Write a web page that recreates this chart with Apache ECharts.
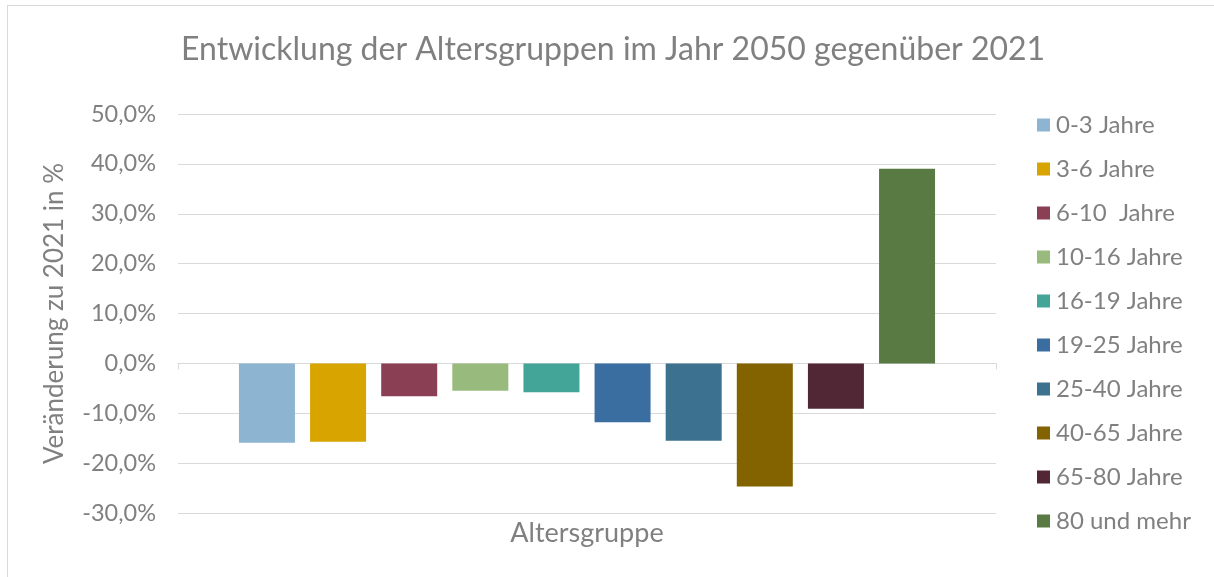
<!DOCTYPE html>
<html>
<head>
<meta charset="utf-8">
<script src="https://cdn.jsdelivr.net/npm/echarts@6/dist/echarts.min.js"></script>
<style>
  html, body { margin: 0; padding: 0; background: #fff; }
  #frame { position: absolute; left: 7px; top: 5px; width: 1214px; height: 577px; border: 1px solid #d9d9d9; box-sizing: border-box; }
  #chart { position: absolute; left: 0; top: 0; width: 1214px; height: 577px; }
</style>
</head>
<body>
<div id="frame"></div>
<div id="chart"></div>
<script>
const categories = ["Altersgruppe"];
const seriesNames = ["0-3 Jahre", "3-6 Jahre", "6-10  Jahre", "10-16 Jahre", "16-19 Jahre",
  "19-25 Jahre", "25-40 Jahre", "40-65 Jahre", "65-80 Jahre", "80 und mehr"];
const seriesValues = [-15.9, -15.7, -6.6, -5.5, -5.8, -11.8, -15.5, -24.7, -9.1, 39.0];
const seriesColors = ["#8DB4D0", "#D8A400", "#8B3F55", "#98BA7C", "#43A597",
  "#3A6EA0", "#3C718F", "#836200", "#522735", "#597B43"];
const yTicks = { min: -30, max: 50, step: 10 };

const textColor = "#808080";
const font = "Lato";

const myChart = echarts.init(document.getElementById("chart"), null, { renderer: "canvas" });

const option = {
  animation: false,
  textStyle: { fontFamily: font, color: textColor },
  title: {
    text: "Entwicklung der Altersgruppen im Jahr 2050 gegenüber 2021",
    left: 176,
    top: 29,
    textStyle: { fontFamily: font, fontSize: 32, fontWeight: "normal", color: textColor },
  },
  legend: {
    orient: "vertical",
    left: 1032,
    top: 108,
    itemWidth: 13,
    itemHeight: 13,
    itemGap: 20,
    icon: "rect",
    data: seriesNames,
    textStyle: { fontFamily: font, fontSize: 24, lineHeight: 24, color: textColor, padding: [0, 0, 0, 1] },
  },
  grid: { left: 178, right: 218, top: 114, bottom: 64, containLabel: false },
  xAxis: [
    {
      type: "category",
      data: categories,
      position: "bottom",
      axisLine: { show: false, onZero: false },
      axisTick: { show: false },
      axisLabel: { fontFamily: font, fontSize: 27, color: textColor, margin: 7 },
    },
    {
      type: "category",
      data: categories,
      position: "bottom",
      axisLine: { show: true, onZero: true, lineStyle: { color: "#d9d9d9", width: 1 } },
      axisTick: { show: true, length: 6, lineStyle: { color: "#d9d9d9" } },
      axisLabel: { show: false },
    },
  ],
  yAxis: {
    type: "value",
    min: yTicks.min,
    max: yTicks.max,
    interval: yTicks.step,
    name: "Veränderung zu 2021 in %",
    nameLocation: "middle",
    nameGap: 110,
    nameTextStyle: { fontFamily: font, fontSize: 26, color: textColor },
    axisLine: { show: false },
    axisTick: { show: false },
    splitLine: { lineStyle: { color: "#d9d9d9", width: 1 } },
    axisLabel: {
      fontFamily: font,
      fontSize: 23.5,
      color: textColor,
      margin: 22,
      formatter: (v) => v.toFixed(1).replace(".", ",") + "%",
    },
  },
  series: seriesNames.map((name, i) => ({
    name: name,
    type: "bar",
    xAxisIndex: 0,
    barWidth: 56,
    barGap: "27%",
    itemStyle: { color: seriesColors[i] },
    data: [seriesValues[i]],
  })),
};

myChart.setOption(option);
</script>
</body>
</html>
